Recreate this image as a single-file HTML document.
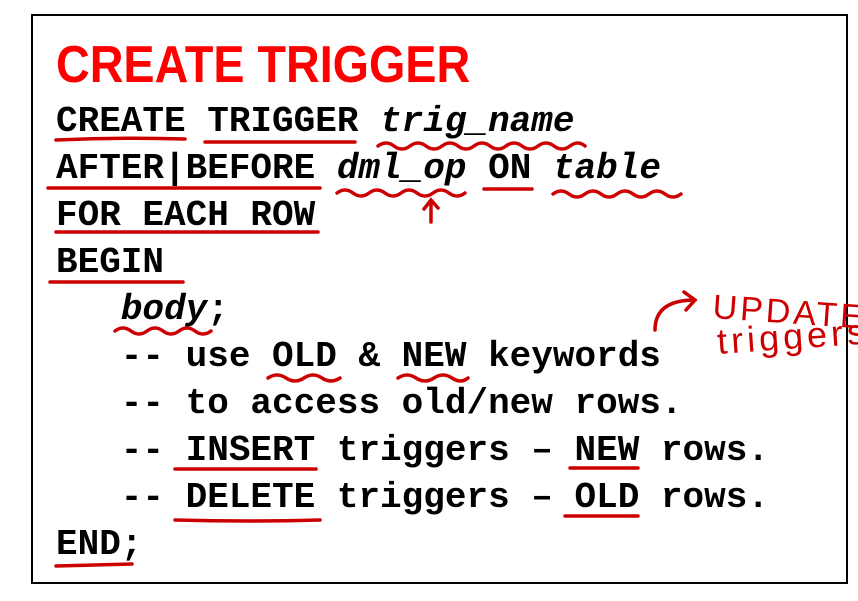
<!DOCTYPE html>
<html><head><style>
body{margin:0;width:858px;height:601px;background:#fff;position:relative;overflow:hidden}
.box{position:absolute;left:31px;top:14px;width:813px;height:566px;border:2px solid #000}
.t{position:absolute;left:56px;top:34px;font:bold 46px "Liberation Sans",sans-serif;color:#f00;transform:scale(1.015,1.12);transform-origin:0 0;letter-spacing:0px}
.c{position:absolute;left:56px;font:bold 36px/1 "Liberation Mono",monospace;color:#000;white-space:pre}
i{font-style:italic}
svg{position:absolute;left:0;top:0}
</style></head><body>
<div class="box"></div>
<div class="t">CREATE TRIGGER</div>
<div class="c" style="top:104px">CREATE TRIGGER <i>trig_name</i></div>
<div class="c" style="top:151px">AFTER|BEFORE <i>dml_op</i> ON <i>table</i></div>
<div class="c" style="top:198px">FOR EACH ROW</div>
<div class="c" style="top:245px">BEGIN</div>
<div class="c" style="top:292px">   <i>body</i>;</div>
<div class="c" style="top:339px">   -- use OLD &amp; NEW keywords</div>
<div class="c" style="top:386px">   -- to access old/new rows.</div>
<div class="c" style="top:433px">   -- INSERT triggers – NEW rows.</div>
<div class="c" style="top:480px">   -- DELETE triggers – OLD rows.</div>
<div class="c" style="top:527px">END;</div>
<svg width="858" height="601" fill="none" stroke="#c00" stroke-width="3.5" stroke-linecap="round">
<path d="M56 140 Q120 137 185 139"/>
<path d="M205 142 L355 142"/>
<path d="M378 146 q8-6 16 0 t16 0 t16 0 t16 0 t16 0 t16 0 t16 0 t16 0 t16 0 t16 0 t16 0 t16 0 t15 0"/>
<path d="M48 188 L320 188"/>
<path d="M337 193 q8-6 16 0 t16 0 t16 0 t16 0 t16 0 t16 0 t16 0 t16 0"/>
<path d="M484 189 L532 189"/>
<path d="M553 194 q8-6 16 0 t16 0 t16 0 t16 0 t16 0 t16 0 t16 0 t16 0"/>
<path d="M431 222 L431 200 M424 209 L431 200 L438 208"/>
<path d="M56 232 L318 232"/>
<path d="M50 282 L183 282"/>
<path d="M115 331 q8-6 16 0 t16 0 t16 0 t16 0 t16 0 t16 0"/>
<path d="M268 378 q9-6 18 0 t18 0 t18 0 t18 0"/>
<path d="M398 378 q9-6 18 0 t18 0 t18 0 t16 0"/>
<path d="M175 469 L316 469"/>
<path d="M570 468 L638 468"/>
<path d="M175 520 Q250 522 320 520"/>
<path d="M565 516 L638 516"/>
<path d="M56 566 L132 564"/>
<path d="M655 330 Q655 300 695 300 M684 292 L695 300 L686 310"/>
<text x="712" y="318" fill="#c00" stroke="none" font-family="Liberation Sans,sans-serif" font-size="34" letter-spacing="3" transform="rotate(4 712 318)">UPDATE</text>
<text x="718" y="354" fill="#c00" stroke="none" font-family="Liberation Sans,sans-serif" font-size="36" letter-spacing="4" transform="rotate(-4 718 354)">triggers</text>
</svg>
</body></html>
